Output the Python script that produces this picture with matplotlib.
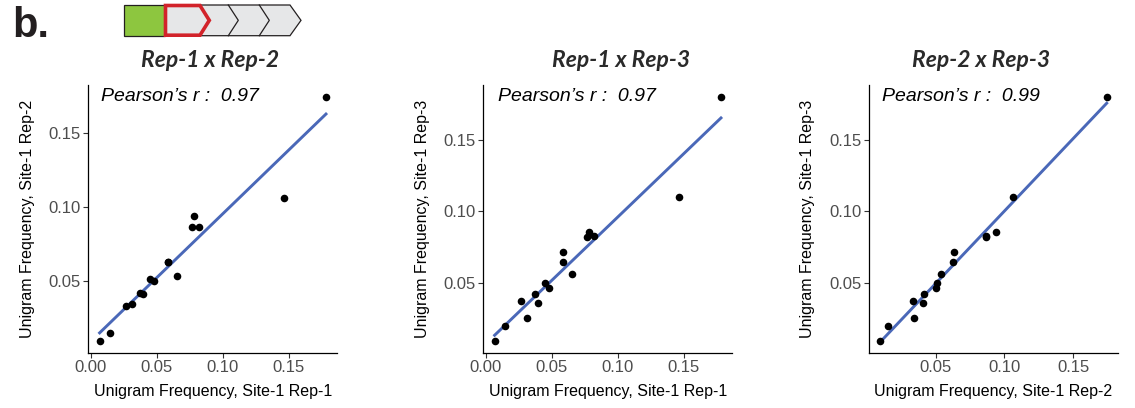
import numpy as np
import matplotlib
matplotlib.use("Agg")
import matplotlib.pyplot as plt
from matplotlib.patches import Polygon, Rectangle
from matplotlib.ticker import FormatStrFormatter

# unigram frequencies per replicate (same 16 items in each)
rep1 = [0.0068, 0.0145, 0.0267, 0.0316, 0.0373, 0.0397, 0.0450, 0.0479,
        0.0588, 0.0588, 0.0655, 0.0771, 0.0784, 0.0822, 0.1463, 0.1783]
rep2 = [0.0097, 0.0151, 0.0333, 0.0342, 0.0418, 0.0410, 0.0513, 0.0499,
        0.0632, 0.0628, 0.0536, 0.0863, 0.0942, 0.0866, 0.1064, 0.1745]
rep3 = [0.0096, 0.0196, 0.0374, 0.0255, 0.0423, 0.0362, 0.0498, 0.0467,
        0.0713, 0.0647, 0.0561, 0.0818, 0.0853, 0.0825, 0.1101, 0.1800]

titles = ["Rep-1 x Rep-2", "Rep-1 x Rep-3", "Rep-2 x Rep-3"]
xlabels = ["Unigram Frequency, Site-1 Rep-1", "Unigram Frequency, Site-1 Rep-1",
           "Unigram Frequency, Site-1 Rep-2"]
ylabels = ["Unigram Frequency, Site-1 Rep-2", "Unigram Frequency, Site-1 Rep-3",
           "Unigram Frequency, Site-1 Rep-3"]
r_labels = ["0.97", "0.97", "0.99"]
pairs = [(rep1, rep2), (rep1, rep3), (rep2, rep3)]

W, H = 1135, 408
plt.rcParams['font.family'] = ['Liberation Sans', 'DejaVu Sans']
fig = plt.figure(figsize=(W / 100, H / 100), dpi=100)

# panel geometry in pixels
lefts = [88.3, 483.3, 869.0]
pw, top, bottom = 249.0, 85.0, 352.7
title_x = [210, 621, 981]
note_x = [0.05, 0.06, 0.051]


def expand(v, f=0.05):
    # ggplot-style 5% padding
    lo, hi = min(v), max(v)
    d = (hi - lo) * f
    return lo - d, hi + d


for i, (xs, ys) in enumerate(pairs):
    ax = fig.add_axes([lefts[i] / W, (H - bottom) / H, pw / W, (bottom - top) / H])
    x = np.array(xs)
    y = np.array(ys)
    ax.scatter(x, y, s=30, color='black', zorder=3, linewidths=0)
    b, a = np.polyfit(x, y, 1)
    xl = np.array([x.min(), x.max()])
    ax.plot(xl, a + b * xl, color='#4A68B8', lw=2.1, zorder=2)
    ax.set_xticks([0, 0.05, 0.10, 0.15])
    ax.set_yticks([0, 0.05, 0.10, 0.15])
    ax.set_xlim(*expand(xs))
    ax.set_ylim(*expand(ys))
    ax.xaxis.set_major_formatter(FormatStrFormatter('%.2f'))
    ax.yaxis.set_major_formatter(FormatStrFormatter('%.2f'))
    for s in ['top', 'right']:
        ax.spines[s].set_visible(False)
    for s in ['left', 'bottom']:
        ax.spines[s].set_linewidth(0.9)
    ax.tick_params(length=3.5, width=0.8, color='#333333', labelcolor='#4D4D4D',
                   labelsize=12, pad=2)
    ax.set_xlabel(xlabels[i], fontsize=11.5, color='black')
    ax.set_ylabel(ylabels[i], fontsize=11.5, color='black')
    ax.xaxis.set_label_coords(0.5, -0.146)
    ax.yaxis.set_label_coords(-0.245, 0.5)
    ax.xaxis.label.set_va('center')
    ax.yaxis.label.set_va('center')
    ax.text(note_x[i], 0.941, "Pearson\u2019s r :  " + r_labels[i], transform=ax.transAxes,
            fontsize=14, style='italic', va='baseline', ha='left')
    fig.text(title_x[i] / W, 1 - 67.3 / H, titles[i], fontsize=16.5, family=['Lato', 'DejaVu Sans'],
             weight='bold', style='italic', color='#2A2A2A', ha='center', va='baseline')

# header: panel letter and the chevron diagram
fig.text(12 / W, 1 - 37 / H, "b.", fontsize=30, weight='bold', color='#231F20',
         ha='left', va='baseline')
hx = fig.add_axes([0, 0, 1, 1])
hx.set_xlim(0, W)
hx.set_ylim(H, 0)
hx.axis('off')
yt, yb = 5.0, 35.7
ym = (yt + yb) / 2
hx.add_patch(Polygon([(165, yt), (290, yt), (301, ym), (290, yb), (165, yb)],
                     closed=True, facecolor='#E6E7E8', edgecolor='#231F20', lw=0.9))
for cx in [228.3, 259.3]:
    hx.plot([cx, cx + 10, cx], [yt, ym, yb], color='#231F20', lw=0.9)
hx.add_patch(Rectangle((124.3, yt), 165 - 124.3, yb - yt, facecolor='#8DC63F',
                       edgecolor='#231F20', lw=0.9))
hx.add_patch(Polygon([(165.5, yt + 0.5), (200, yt + 0.5), (209.3, ym), (200, yb - 0.5), (165.5, yb - 0.5)],
                     closed=True, facecolor='#E6E7E8', edgecolor='#D2232A', lw=2.6, joinstyle='miter'))

fig.savefig("out.png", dpi=100)
